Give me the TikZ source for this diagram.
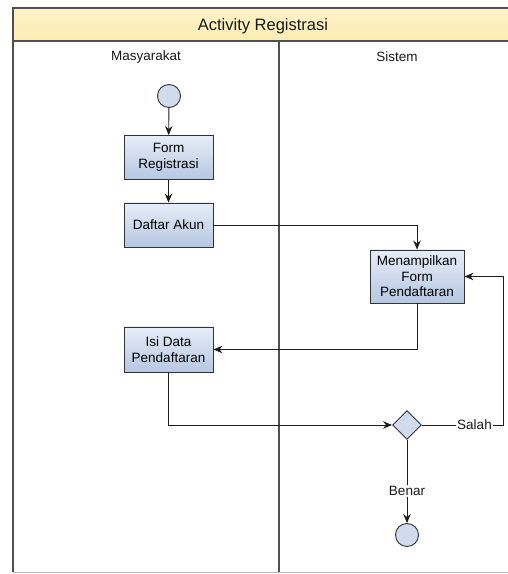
\documentclass[tikz,border=0pt]{standalone}
\usepackage{fontspec}
\setmainfont{Liberation Sans}
\usetikzlibrary{arrows.meta,shapes.geometric}

\begin{document}
\begin{tikzpicture}[x=1pt,y=1pt,
  actbox/.style={draw=boxLine,line width=0.9pt,top color=boxTop,bottom color=boxBottom,
    minimum width=89pt,minimum height=44pt,inner sep=2pt,align=center,
    font=\fontsize{13.5}{15.5}\selectfont},
  statenode/.style={circle,draw=boxLine,line width=0.9pt,fill=stateFill,
    minimum size=23pt,inner sep=0pt},
  decnode/.style={diamond,draw=boxLine,line width=0.9pt,fill=stateFill,
    minimum width=29pt,minimum height=29pt,inner sep=0pt},
  flow/.style={draw=lineColor,line width=0.9pt,-{Stealth[length=9pt,width=7.5pt]}},
  plainline/.style={draw=lineColor,line width=0.9pt},
  lbl/.style={font=\fontsize{13.5}{15}\selectfont,text=textColor,inner sep=1pt}]
\definecolor{fillColor}{RGB}{255,255,255}
\definecolor{frameColor}{RGB}{80,80,80}
\definecolor{titleTop}{RGB}{255,243,200}
\definecolor{titleBottom}{RGB}{252,236,178}
\definecolor{boxTop}{RGB}{230,237,248}
\definecolor{boxBottom}{RGB}{182,199,226}
\definecolor{stateFill}{RGB}{208,220,238}
\definecolor{boxLine}{RGB}{50,50,55}
\definecolor{lineColor}{RGB}{30,30,30}
\definecolor{textColor}{RGB}{25,25,25}
\path[use as bounding box,fill=fillColor] (0,0) rectangle (508,574);
\begin{scope}
\path[clip] (0,0) rectangle (508,574);

% swimlane frame
\path[draw=frameColor,line width=1.4pt,top color=titleTop,bottom color=titleBottom] (13,533) rectangle (515,566);
\path[draw=frameColor,line width=1.4pt] (13,533) -- (13,2);
\path[draw=frameColor,line width=1.4pt] (279,533) -- (279,2);
\path[draw=frameColor!40,line width=0.8pt] (13,2) -- (515,2);

\node[lbl,font=\fontsize{16.5}{18}\selectfont] (title) at (263,548) {Activity Registrasi};
\node[lbl] (laneA) at (146,517) {Masyarakat};
\node[lbl] (laneB) at (397,517) {Sistem};

% Masyarakat
\node[statenode] (start) at (169,478) {};
\node[actbox] (form) at (168.5,416.5) {Form\\Registrasi};
\node[actbox] (daftar) at (168.5,349) {Daftar Akun};
\node[actbox,minimum height=45pt] (isi) at (168.5,224.5) {Isi Data\\Pendaftaran};

% Sistem
\node[actbox,minimum width=94pt,minimum height=53pt] (tampil) at (417,297.5) {Menampilkan\\Form\\Pendaftaran};
\node[decnode] (cek) at (407,149) {};
\node[lbl] (salah) at (474.5,149) {Salah};
\node[lbl] (benar) at (407,83) {Benar};
\node[statenode] (finish) at (407,39) {};
\coordinate (loop) at (503,297.5);

% connectors
\path[flow] (start) -- (form);
\path[flow] (form) -- (daftar);
\path[flow] (daftar.east) -| (tampil.north);
\path[flow] (tampil.south) |- (isi.east);
\path[flow] (isi.south) |- (cek.west);
\path[plainline] (cek.east) -- (salah.west);
\path[flow] (salah.east) -| (loop) -- (tampil.east);
\path[plainline] (cek.south) -- (benar.north);
\path[flow] (benar.south) -- (finish.north);
\end{scope}
\end{tikzpicture}
\end{document}
